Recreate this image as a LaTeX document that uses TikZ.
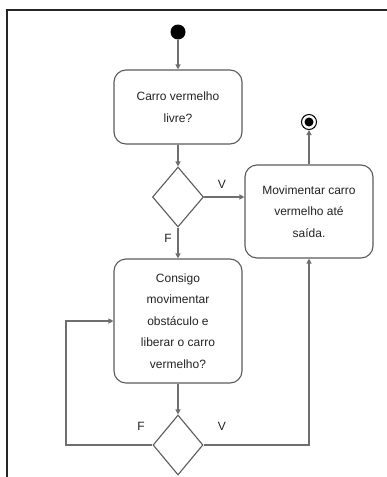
\documentclass[tikz,border=0pt]{standalone}
\usepackage{fontspec}
\setmainfont{Liberation Sans}
\usetikzlibrary{shapes.geometric,arrows.meta}
\definecolor{ln}{HTML}{6E6E6E}
\definecolor{bx}{HTML}{5A5A5A}
\definecolor{tx}{HTML}{222222}
\tikzset{
  actbox/.style={draw=bx,line width=1.1pt,rounded corners=12pt,minimum width=128pt,inner sep=0pt,align=center,text=tx,font=\fontsize{12}{21.5}\selectfont},
  decis/.style={draw=bx,line width=1.1pt,shape=diamond,inner sep=0pt},
  flow/.style={draw=ln,line width=1.1pt,-{Triangle[length=5pt,width=5pt]}},
  plainln/.style={draw=ln,line width=1.1pt},
  lbl/.style={text=tx,font=\fontsize{12}{14}\selectfont,inner sep=0pt}
}
\begin{document}
\begin{tikzpicture}[x=1pt,y=-1pt]
\useasboundingbox (0,0) rectangle (387,477);
% frame
\draw[line width=1.4pt,color=black!85] (387,10) -- (7,10) -- (7,477);
% nodes
\node[circle,fill=black,inner sep=0pt,minimum size=15pt] (start) at (178,32) {};
\node[actbox,minimum height=74pt] (b1) at (178,107) {Carro vermelho\\livre?};
\node[decis,minimum width=51pt,minimum height=60pt] (d1) at (178,197) {};
\node[actbox,minimum height=93pt] (b2) at (309,211.5) {Movimentar carro\\vermelho até\\saída.};
\node[circle,draw=black,line width=1pt,inner sep=0pt,minimum size=15pt] (end) at (309,122) {};
\node[circle,fill=black,inner sep=0pt,minimum size=9pt] (endin) at (309,122) {};
\node[actbox,minimum height=124pt] (b3) at (178,321) {Consigo\\movimentar\\obstáculo e\\liberar o carro\\vermelho?};
\node[decis,minimum width=50pt,minimum height=60pt] (d2) at (178,445) {};
% labels
\node[lbl] (lv1) at (222,184) {V};
\node[lbl] (lf1) at (168,238) {F};
\node[lbl] (lf2) at (141,426) {F};
\node[lbl] (lv2) at (222,426) {V};
% connectors
\draw[flow] (start) -- (b1);
\draw[flow] (b1) -- (d1);
\draw[flow] (d1.east) -- (d1.east -| b2.west);
\draw[flow] (d1) -- (b3);
\draw[flow] (b2) -- (end);
\draw[flow] (b3) -- (d2);
\coordinate (cl) at (66,445);
\draw[flow] (d2.west) -- (cl) |- (b3.west);
\draw[flow] (d2.east) -| (b2.south);
\end{tikzpicture}
\end{document}
